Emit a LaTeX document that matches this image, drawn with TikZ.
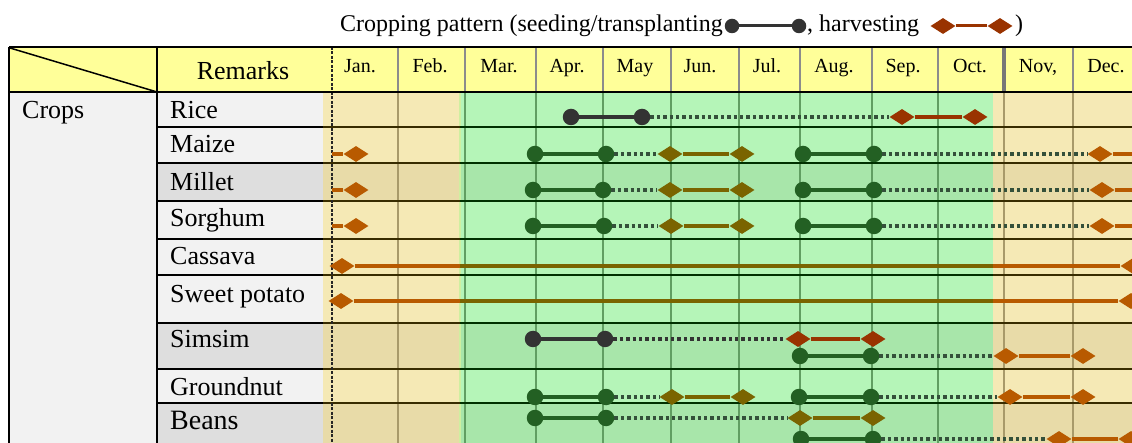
\documentclass[tikz,border=0pt]{standalone}
\usepackage{fontspec}
\setmainfont{Liberation Serif}
\usetikzlibrary{shapes.geometric}

\definecolor{headyellow}{HTML}{FFFF99}
\definecolor{cellgray}{HTML}{F2F2F2}
\definecolor{cellgraydk}{HTML}{DEDEDE}
\definecolor{dryseason}{HTML}{F5E9B5}
\definecolor{dryseasondk}{HTML}{E8DBA8}
\definecolor{rainseason}{HTML}{B5F5B8}
\definecolor{rainseasondk}{HTML}{A8E6AA}
\definecolor{sowgreen}{HTML}{236023}
\definecolor{sowgray}{HTML}{333333}
\definecolor{harvorange}{HTML}{B85A00}
\definecolor{harvred}{HTML}{993300}
\definecolor{harvolive}{HTML}{7A6400}
\definecolor{waitgreen}{HTML}{34503A}
\definecolor{drygrid}{HTML}{A89A6A}
\definecolor{raingrid}{HTML}{619E62}
\definecolor{dryrule}{HTML}{382C00}
\definecolor{rainrule}{HTML}{003000}
\definecolor{headsep}{HTML}{8C8C8C}
\definecolor{rainedge}{HTML}{CFEFA0}

% a pair of seeding dots joined by a solid bar
\newcommand\sowpair[5]{%
  \node[sowdot,fill=#5] (#1s) at (#2,#4) {};
  \node[sowdot,fill=#5] (#1e) at (#3,#4) {};
  \draw[sowline,#5] (#1s) -- (#1e);}
% a pair of harvest diamonds joined by a solid bar
\newcommand\harvpair[5]{%
  \node[harvdia,fill=#5] (#1s) at (#2,#4) {};
  \node[harvdia,fill=#5] (#1e) at (#3,#4) {};
  \draw[harvline,#5] (#1s) -- (#1e);}

\begin{document}
\begin{tikzpicture}[x=1pt,y=-1pt,
  sowdot/.style={circle,inner sep=0pt,minimum size=16.5pt,draw=none},
  harvdia/.style={diamond,inner sep=0pt,minimum width=25pt,minimum height=16pt,draw=none},
  sowline/.style={line width=3.6pt},
  harvline/.style={line width=3.6pt},
  waitline/.style={line width=3.4pt,dash pattern=on 3.4pt off 3pt},
  cropname/.style={anchor=base west,inner sep=0pt,font=\fontsize{26}{30}\selectfont},
  month/.style={anchor=base,inner sep=0pt,font=\fontsize{20}{24}\selectfont},
  legendtext/.style={anchor=base west,inner sep=0pt,font=\fontsize{24}{28}\selectfont},
  rule/.style={line width=2pt},
  border/.style={line width=2.5pt,black},
]
\useasboundingbox (0,0) rectangle (1132,443);
\clip (0,0) rectangle (1132,443);

% ---------- fills ----------
\fill[headyellow] (9,47) rectangle (1132,92);
\fill[cellgray] (9,92) rectangle (323,443);
\foreach \ya/\yb in {163/201, 323/369, 403/443}
  \fill[cellgraydk] (157,\ya) rectangle (323,\yb);
% dry and rainy seasons
\fill[dryseason] (323,92) rectangle (460,443);
\fill[dryseason] (993,92) rectangle (1132,443);
\fill[rainseason] (460,92) rectangle (993,443);
\foreach \ya/\yb in {163/201, 323/369, 403/443}{
  \fill[dryseasondk] (323,\ya) rectangle (460,\yb);
  \fill[dryseasondk] (993,\ya) rectangle (1132,\yb);
  \fill[rainseasondk] (460,\ya) rectangle (993,\yb);
}
\draw[rainedge,line width=1.5pt] (460,92) -- (460,443);

% ---------- grid ----------
\foreach \xx in {398, 1004, 1073}
  \draw[drygrid,line width=2pt] (\xx,92) -- (\xx,443);
\foreach \xx in {465, 536, 603, 671, 739, 800, 872, 938}
  \draw[raingrid,line width=2.5pt] (\xx,92) -- (\xx,443);
\foreach \yy in {127,163,201,239,275,323,369,403}{
  \draw[rule,black] (157,\yy) -- (323,\yy);
  \draw[rule,dryrule] (323,\yy) -- (460,\yy);
  \draw[rule,rainrule] (460,\yy) -- (993,\yy);
  \draw[rule,dryrule] (993,\yy) -- (1132,\yy);
}
\foreach \xx in {398, 465, 536, 603, 671, 739, 800, 872, 938, 1073}
  \draw[headsep,line width=2.5pt] (\xx,47) -- (\xx,92);
\draw[headsep!85!black,line width=3.5pt] (1004,47) -- (1004,92);
\draw[black!85,line width=1.6pt,dash pattern=on 3pt off 1.5pt] (332,47) -- (332,443);
\draw[border] (9,47) -- (1132,47);
\draw[rule,black] (9,92) -- (1132,92);
\draw[border] (9,47) -- (9,443);
\draw[rule,black] (157,47) -- (157,443);
\draw[line width=1.5pt] (10,48) -- (157,92);

% ---------- header text ----------
\node[anchor=base,inner sep=0pt,font=\fontsize{26}{30}\selectfont] (remarks) at (243,80) {Remarks};
\node[month] (mJan) at (360,73) {Jan.};
\node[month] (mFeb) at (430,73) {Feb.};
\node[month] (mMar) at (499,73) {Mar.};
\node[month] (mApr) at (567,73) {Apr.};
\node[month] (mMay) at (635,73) {May};
\node[month] (mJun) at (700,73) {Jun.};
\node[month] (mJul) at (767,73) {Jul.};
\node[month] (mAug) at (834,73) {Aug.};
\node[month] (mSep) at (903,73) {Sep.};
\node[month] (mOct) at (970,73) {Oct.};
\node[month] (mNov) at (1038,73) {Nov,};
\node[month] (mDec) at (1106,73) {Dec.};

% ---------- row labels ----------
\node[cropname] (crops) at (22,119) {Crops};
\node[cropname] (cRice) at (170,119) {Rice};
\node[cropname] (cMaize) at (170,153) {Maize};
\node[cropname] (cMillet) at (170,191) {Millet};
\node[cropname] (cSorghum) at (170,227) {Sorghum};
\node[cropname] (cCassava) at (170,265) {Cassava};
\node[cropname] (cSweet) at (170,303) {Sweet potato};
\node[cropname] (cSimsim) at (170,348) {Simsim};
\node[cropname] (cGround) at (170,395) {Groundnut};
\node[cropname,font=\fontsize{28}{32}\selectfont] (cBeans) at (170,429) {Beans};

% ---------- legend ----------
\node[legendtext] (legA) at (340,32) {Cropping pattern (seeding/transplanting};
\node[sowdot,fill=sowgray,minimum size=14.5pt] (legS1) at (732,26) {};
\node[sowdot,fill=sowgray,minimum size=14.5pt] (legS2) at (799,26) {};
\draw[sowline,sowgray,line width=3pt] (legS1) -- (legS2);
\node[legendtext] (legB) at (807,32) {, harvesting};
\node[harvdia,fill=harvred,minimum width=25pt,minimum height=16pt] (legH1) at (943,26) {};
\node[harvdia,fill=harvred,minimum width=25pt,minimum height=16pt] (legH2) at (1000,26) {};
\draw[harvline,harvred,line width=3pt] (legH1) -- (legH2);
\node[legendtext] (legC) at (1015,32) {)};

% ---------- Rice ----------
\sowpair{riceS}{571}{642}{117}{sowgray}
\harvpair{riceH}{902}{975}{117}{harvred}
\draw[waitline,waitgreen] (riceSe) -- (riceHs);

% ---------- Maize, Millet, Sorghum ----------
\foreach \crop/\yy/\sa/\sb/\ha/\hb/\hc in
  {maize/154/535/606/670/742/1100, millet/190/533/603/670/742/1102, sorghum/226/533/604/671/742/1102}{
  \coordinate (\crop L) at (332,\yy);
  \node[harvdia,fill=harvorange] (\crop H0) at (356,\yy) {};
  \draw[harvline,harvorange] (\crop L) -- (\crop H0);
  \sowpair{\crop A}{\sa}{\sb}{\yy}{sowgreen}
  \harvpair{\crop B}{\ha}{\hb}{\yy}{harvolive}
  \draw[waitline,waitgreen] (\crop Ae) -- (\crop Bs);
  \sowpair{\crop C}{803}{874}{\yy}{sowgreen}
  \node[harvdia,fill=harvorange] (\crop D) at (\hc,\yy) {};
  \coordinate (\crop R) at (1132,\yy);
  \draw[waitline,waitgreen] (\crop Ce) -- (\crop D);
  \draw[harvline,harvorange] (\crop D) -- (\crop R);
}

% ---------- Cassava, Sweet potato ----------
\foreach \crop/\yy/\xa/\xb in {cassava/266/342/1133, sweet/301/341/1131}{
  \node[harvdia,fill=harvorange] (\crop S) at (\xa,\yy) {};
  \node[harvdia,fill=harvorange] (\crop E) at (\xb,\yy) {};
  \coordinate (\crop W) at (460,\yy);
  \coordinate (\crop X) at (993,\yy);
  \draw[harvline,harvorange] (\crop S) -- (\crop W);
  \draw[harvline,harvolive] (\crop W) -- (\crop X);
  \draw[harvline,harvorange] (\crop X) -- (\crop E);
}

% ---------- Simsim ----------
\sowpair{simA}{533}{605}{339}{sowgray}
\harvpair{simB}{798}{873}{339}{harvred}
\draw[waitline,sowgray] (simAe) -- (simBs);
\sowpair{simC}{800}{871}{356}{sowgreen}
\harvpair{simD}{1006}{1083}{356}{harvorange}
\draw[waitline,waitgreen] (simCe) -- (simDs);

% ---------- Groundnut ----------
\sowpair{gnA}{535}{606}{397}{sowgreen}
\harvpair{gnB}{672}{743}{397}{harvolive}
\draw[waitline,waitgreen] (gnAe) -- (gnBs);
\sowpair{gnC}{799}{871}{397}{sowgreen}
\harvpair{gnD}{1010}{1083}{397}{harvorange}
\draw[waitline,waitgreen] (gnCe) -- (gnDs);

% ---------- Beans ----------
\sowpair{bnA}{535}{606}{418}{sowgreen}
\harvpair{bnB}{800}{873}{418}{harvolive}
\draw[waitline,waitgreen] (bnAe) -- (bnBs);
\sowpair{bnC}{801}{873}{439}{sowgreen}
\harvpair{bnD}{1059}{1131}{439}{harvorange}
\draw[waitline,waitgreen] (bnCe) -- (bnDs);
\end{tikzpicture}
\end{document}
